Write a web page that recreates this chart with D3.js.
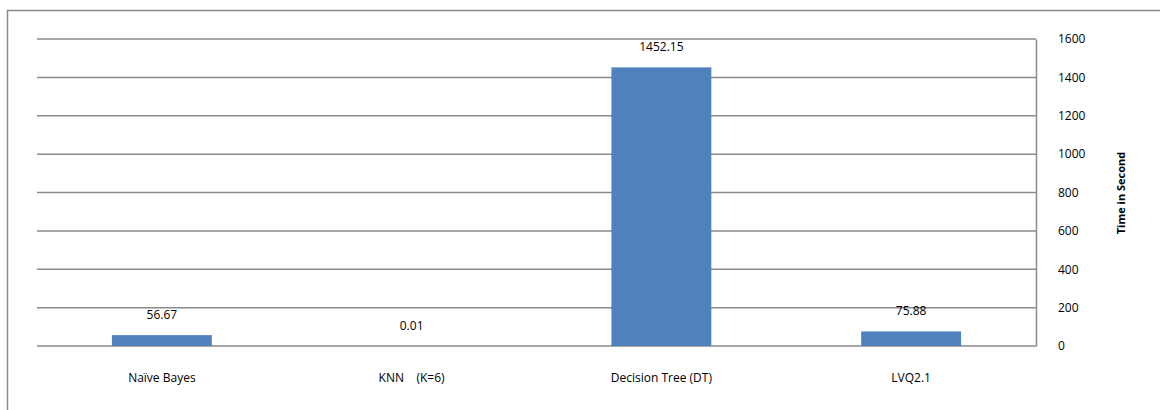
<!DOCTYPE html>
<html>
<head>
<meta charset="utf-8">
<script src="https://cdn.jsdelivr.net/npm/d3@7"></script>
<style>
  body { margin: 0; background: #fff; }
  text { font-family: "Open Sans", "Noto Sans", sans-serif; fill: #000; }
</style>
</head>
<body>
<svg id="chart" width="1160" height="410"></svg>
<script>
// chart data
const categories = ["Naïve Bayes", "KNN    (K=6)", "Decision Tree (DT)", "LVQ2.1"];
const times = [56.67, 0.01, 1452.15, 75.88];
const valueLabels = ["56.67", "0.01", "1452.15", "75.88"];
const yTicks = [0, 200, 400, 600, 800, 1000, 1200, 1400, 1600];

const svg = d3.select("#chart");
const plot = { left: 37, right: 1036, top: 39, bottom: 346 };

// outer frame (only left and top edges visible)
svg.append("path")
    .attr("d", "M7.5,410V10.5H1160")
    .attr("fill", "none")
    .attr("stroke", "#8a8a8a")
    .attr("stroke-width", 1.5);

const x = d3.scaleBand()
    .domain(categories)
    .range([plot.left, plot.right])
    .paddingInner(0.6)
    .paddingOuter(0.3);

const y = d3.scaleLinear()
    .domain([0, 1600])
    .range([plot.bottom, plot.top]);

// gridlines
svg.append("g")
    .selectAll("line")
    .data(yTicks)
    .join("line")
    .attr("x1", plot.left)
    .attr("x2", plot.right)
    .attr("y1", d => y(d))
    .attr("y2", d => y(d))
    .attr("stroke", "#8a8a8a")
    .attr("stroke-width", 1.5);

// right axis
const axis = svg.append("g")
    .attr("transform", `translate(${plot.right},0)`)
    .call(d3.axisRight(y).tickValues(yTicks).tickFormat(d3.format("d")).tickSize(0).tickPadding(22));
axis.select(".domain").attr("stroke", "#8a8a8a").attr("stroke-width", 1.5);
axis.selectAll("text")
    .attr("font-size", 12)
    .attr("font-family", "'Open Sans', 'Noto Sans', sans-serif");

// axis title
svg.append("text")
    .attr("transform", "translate(1125,193) rotate(-90)")
    .attr("text-anchor", "middle")
    .attr("font-size", 11)
    .attr("font-weight", "bold")
    .text("Time in Second");

// bars
svg.append("g")
    .selectAll("rect")
    .data(times)
    .join("rect")
    .attr("x", (d, i) => x(categories[i]))
    .attr("width", x.bandwidth())
    .attr("y", d => y(d))
    .attr("height", d => y(0) - y(d))
    .attr("fill", "#4f81bd");

// value labels
svg.append("g")
    .selectAll("text")
    .data(times)
    .join("text")
    .attr("x", (d, i) => x(categories[i]) + x.bandwidth() / 2)
    .attr("y", d => y(d) - 16)
    .attr("text-anchor", "middle")
    .attr("font-size", 12)
    .text((d, i) => valueLabels[i]);

// category labels
svg.append("g")
    .selectAll("text")
    .data(categories)
    .join("text")
    .attr("x", d => x(d) + x.bandwidth() / 2)
    .attr("y", 382)
    .attr("text-anchor", "middle")
    .attr("font-size", 12)
    .style("white-space", "pre")
    .text(d => d);
</script>
</body>
</html>
